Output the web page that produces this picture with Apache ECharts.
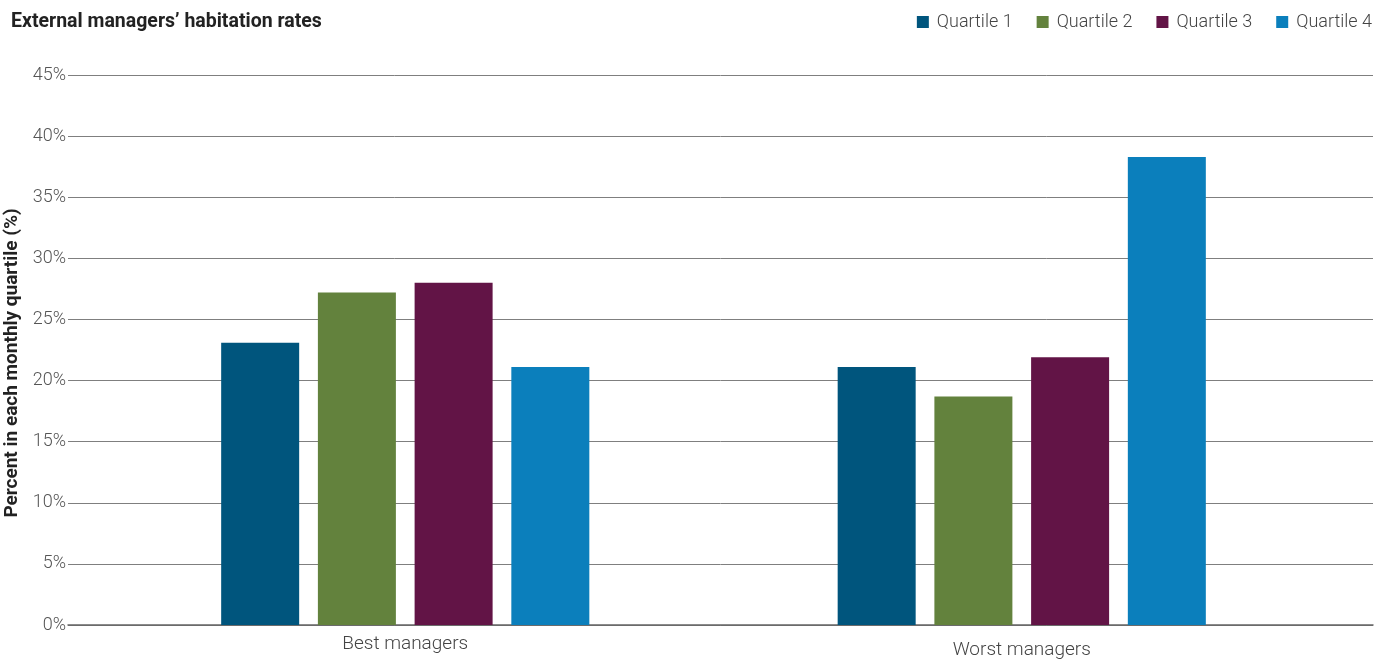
<!DOCTYPE html>
<html>
<head>
<meta charset="utf-8">
<script src="https://cdn.jsdelivr.net/npm/echarts@6/dist/echarts.min.js"></script>
<style>
  html, body { margin: 0; padding: 0; background: #fff; }
  #chart { width: 1390px; height: 659px; }
</style>
</head>
<body>
<div id="chart"></div>
<script>
// Habitation rates of external managers by monthly performance quartile
const categories = ['Best managers', 'Worst managers'];
const seriesNames = ['Quartile 1', 'Quartile 2', 'Quartile 3', 'Quartile 4'];
const quartile1 = [23.1, 21.1];
const quartile2 = [27.2, 18.7];
const quartile3 = [28.0, 21.9];
const quartile4 = [21.1, 38.3];
const yTicks = [0, 5, 10, 15, 20, 25, 30, 35, 40, 45];

const colors = ['#00557D', '#63823D', '#621446', '#0B7FBC'];
const values = [quartile1, quartile2, quartile3, quartile4];
const font = 'Roboto, "Liberation Sans", sans-serif';

const chart = echarts.init(document.getElementById('chart'), null, { renderer: 'canvas' });

chart.setOption({
  animation: false,
  backgroundColor: '#ffffff',
  color: colors,
  title: {
    text: 'External managers\u2019 habitation rates',
    left: 6,
    top: 7,
    textStyle: { fontFamily: font, fontSize: 19.5, fontWeight: 'bold', color: '#222' }
  },
  legend: {
    right: 13,
    top: 8,
    itemWidth: 12,
    itemHeight: 12,
    itemGap: 24,
    icon: 'rect',
    data: seriesNames,
    textStyle: { fontFamily: font, fontSize: 18, fontWeight: 300, color: '#444', padding: [0, 0, 0, 3] }
  },
  grid: [
    // frame for gridlines and percentage labels
    { left: 68, right: 17, top: 75, bottom: 34, outerBoundsMode: 'none', containLabel: false },
    // frame holding the grouped bars
    { left: 97, right: 60, top: 75, bottom: 34, outerBoundsMode: 'none', containLabel: false }
  ],
  xAxis: [
    {
      gridIndex: 0, type: 'value', min: 0, max: 1,
      axisLine: { show: true, onZero: false, lineStyle: { color: '#666', width: 1.5 } },
      axisTick: { show: false }, axisLabel: { show: false }, splitLine: { show: false }
    },
    {
      gridIndex: 1, type: 'category', data: categories,
      axisLine: { show: false }, axisTick: { show: false },
      axisLabel: {
        margin: 10,
        fontFamily: font, fontSize: 19, fontWeight: 300, color: '#444',
        formatter: function (v, i) { return i === 1 ? '{w|' + v + '}' : '{b|' + v + '}'; },
        rich: {
          b: { fontFamily: font, fontSize: 19, fontWeight: 300, color: '#444' },
          w: { fontFamily: font, fontSize: 19, fontWeight: 300, color: '#444', padding: [6, 0, 0, 0] }
        }
      }
    }
  ],
  yAxis: [
    {
      gridIndex: 0, type: 'value', min: yTicks[0], max: yTicks[yTicks.length - 1], interval: 5,
      name: 'Percent in each monthly quartile (%)',
      nameLocation: 'middle', nameGap: 37, nameRotate: 90,
      nameTextStyle: { fontFamily: font, fontSize: 19, fontWeight: 'bold', color: '#222', padding: [0, 26, 0, 0] },
      axisLine: { show: false }, axisTick: { show: false },
      axisLabel: { margin: 2, formatter: '{value}%', fontFamily: font, fontSize: 18, fontWeight: 300, color: '#555' },
      splitLine: { show: true, lineStyle: { color: '#7f7f7f', width: 1 } }
    },
    {
      gridIndex: 1, type: 'value', min: yTicks[0], max: yTicks[yTicks.length - 1], interval: 5,
      axisLine: { show: false }, axisTick: { show: false }, axisLabel: { show: false }, splitLine: { show: false }
    }
  ],
  series: seriesNames.map(function (name, i) {
    return {
      name: name,
      type: 'bar',
      xAxisIndex: 1,
      yAxisIndex: 1,
      barWidth: 78,
      barGap: '24%',
      data: values[i],
      itemStyle: { color: colors[i] },
      z: 3
    };
  })
});
</script>
</body>
</html>
